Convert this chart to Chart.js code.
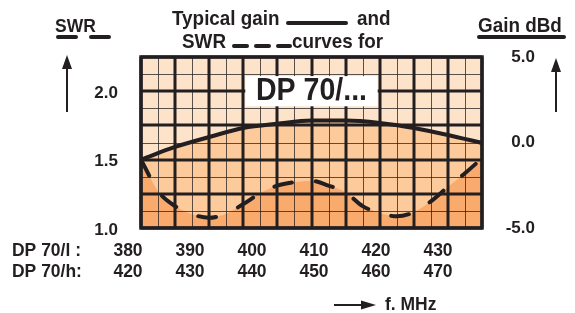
<!DOCTYPE html>
<html>
<head>
<meta charset="utf-8">
<script src="https://cdn.jsdelivr.net/npm/chart.js@4/dist/chart.umd.min.js"></script>
<style>
  html, body { margin: 0; padding: 0; background: #fff; }
</style>
</head>
<body>
<canvas id="chart" width="575" height="313"></canvas>
<script>
// values
const swrFreq = [380, 382.5, 385, 387.5, 390, 392.5, 395, 397.5, 400, 402.5, 405,
  407.5, 410, 412.5, 415, 417.5, 420, 422.5, 425, 427.5, 430];
const swrValues = [1.50, 1.27, 1.16, 1.10, 1.075, 1.105, 1.175, 1.255, 1.31, 1.335, 1.345,
  1.31, 1.26, 1.16, 1.11, 1.085, 1.115, 1.195, 1.30, 1.40, 1.51];
const gainFreq = [380, 385, 390, 395, 400, 405, 410, 415, 420, 425, 430];
const gainValues = [-1.0, -0.26, 0.32, 0.85, 1.1, 1.28, 1.28, 1.14, 0.85, 0.44, -0.03];

const swrTicks = [1.0, 1.5, 2.0];
const gainTicks = [-5, 0, 5];
const bandNames = ['DP 70/l :', 'DP 70/h:'];
const lowBandLabels = ['380', '390', '400', '410', '420', '430'];
const highBandLabels = ['420', '430', '440', '450', '460', '470'];

const ink = '#231f20';
const family = "'Liberation Sans', Arial, sans-serif";
Chart.defaults.font.family = family;

// the print uses a slightly condensed bold sans, so squeeze it a little
function write(ctx, str, x, y, size, align) {
  ctx.save();
  ctx.translate(x, y);
  ctx.scale(0.92, 1);
  ctx.font = `bold ${size}px ${family}`;
  ctx.textAlign = align || 'left';
  ctx.textBaseline = 'alphabetic';
  ctx.fillStyle = ink;
  ctx.fillText(str, 0, 0);
  ctx.restore();
}

function stroke(ctx, x1, y1, x2, y2, w, cap) {
  ctx.lineWidth = w;
  ctx.lineCap = cap || 'butt';
  ctx.beginPath();
  ctx.moveTo(x1, y1);
  ctx.lineTo(x2, y2);
  ctx.stroke();
}

function upArrow(ctx, x, tip, tail) {
  stroke(ctx, x, tail, x, tip + 10, 2);
  ctx.beginPath();
  ctx.moveTo(x, tip);
  ctx.lineTo(x - 5, tip + 14);
  ctx.lineTo(x + 5, tip + 14);
  ctx.closePath();
  ctx.fill();
}

const sheet = {
  id: 'sheet',
  beforeDraw(chart) {
    const { ctx, chartArea: a } = chart;
    ctx.save();
    ctx.fillStyle = '#fff';
    ctx.fillRect(0, 0, chart.width, chart.height);
    ctx.fillStyle = '#fde3ca';
    ctx.fillRect(a.left, a.top, a.width, a.height);
    ctx.restore();
  },
  // grid goes over the fills but under the curves
  beforeDatasetsDraw(chart) {
    const { ctx, chartArea: a, scales } = chart;
    const x = scales.x, y = scales.swr;
    ctx.save();
    const vx = x.ticks.map(t => ({ p: Math.round(x.getPixelForValue(t.value)), major: Math.round((t.value - 380) / 2.5) % 2 === 0 }));
    const hy = y.ticks.map(t => ({ p: Math.round(y.getPixelForValue(t.value)), major: Math.round((t.value - 1) / 0.125) % 2 === 0 }));
    ctx.strokeStyle = 'rgba(35,31,32,0.75)';
    vx.filter(v => !v.major).forEach(v => stroke(ctx, v.p + 0.5, a.top, v.p + 0.5, a.bottom, 1));
    hy.filter(h => !h.major).forEach(h => stroke(ctx, a.left, h.p + 0.5, a.right, h.p + 0.5, 1));
    ctx.strokeStyle = ink;
    vx.filter(v => v.major).forEach(v => stroke(ctx, v.p, a.top, v.p, a.bottom, 3));
    hy.filter(h => h.major).forEach(h => stroke(ctx, a.left, h.p, a.right, h.p, 3));
    ctx.lineWidth = 3.5;
    ctx.strokeRect(a.left, a.top, a.width, a.height);

    // name plate inside the grid
    const bx1 = x.getPixelForValue(395) + 2, bx2 = x.getPixelForValue(415) - 2;
    const by1 = y.getPixelForValue(2.125) + 2, by2 = y.getPixelForValue(1.875) - 2;
    ctx.fillStyle = '#fff';
    ctx.fillRect(bx1, by1, bx2 - bx1, by2 - by1);
    write(ctx, 'DP 70/...', (bx1 + bx2) / 2, by2 - 6, 31, 'center');
    ctx.restore();
  },
  afterDraw(chart) {
    const { ctx } = chart;
    ctx.save();
    ctx.strokeStyle = ink;
    ctx.fillStyle = ink;

    write(ctx, 'Typical gain', 172, 25, 20.5);
    stroke(ctx, 288, 23, 346, 23, 4, 'round');
    write(ctx, 'and', 357, 25, 20.5);
    write(ctx, 'SWR', 182, 48, 20.5);
    [[234, 247], [256, 269], [278, 290]].forEach(d => stroke(ctx, d[0], 46, d[1], 46, 4, 'round'));
    write(ctx, 'curves for', 292, 48, 20.5);

    write(ctx, 'SWR', 55, 32, 19);
    stroke(ctx, 58, 37, 76, 37, 4, 'round');
    stroke(ctx, 91, 37, 109, 37, 4, 'round');
    ctx.fillStyle = ink;
    upArrow(ctx, 67, 55, 112);

    write(ctx, 'Gain dBd', 478, 32, 20.5);
    stroke(ctx, 479, 37, 564, 37, 4, 'round');
    ctx.fillStyle = ink;
    upArrow(ctx, 556, 58, 112);

    write(ctx, bandNames[0], 12, 256, 19);
    write(ctx, bandNames[1], 12, 277, 19);
    lowBandLabels.forEach((t, i) => write(ctx, t, 128 + i * 62, 256, 19, 'center'));
    highBandLabels.forEach((t, i) => write(ctx, t, 128 + i * 62, 277, 19, 'center'));

    stroke(ctx, 334, 305, 364, 305, 2);
    ctx.fillStyle = ink;
    ctx.beginPath();
    ctx.moveTo(376, 305);
    ctx.lineTo(361, 300.5);
    ctx.lineTo(361, 309.5);
    ctx.closePath();
    ctx.fill();
    write(ctx, 'f. MHz', 385, 310, 19);
    ctx.restore();
  }
};

new Chart(document.getElementById('chart'), {
  type: 'line',
  data: {
    datasets: [{
      label: 'SWR',
      yAxisID: 'swr',
      data: swrFreq.map((f, i) => ({ x: f, y: swrValues[i] })),
      borderColor: ink,
      borderWidth: 4,
      borderDash: [18, 24],
      borderCapStyle: 'round',
      backgroundColor: '#f9ab6e',
      fill: 'start',
      pointRadius: 0,
      cubicInterpolationMode: 'monotone'
    }, {
      label: 'Gain',
      yAxisID: 'gain',
      data: gainFreq.map((f, i) => ({ x: f, y: gainValues[i] })),
      borderColor: ink,
      borderWidth: 4,
      backgroundColor: '#fdca9c',
      fill: 'start',
      pointRadius: 0,
      cubicInterpolationMode: 'monotone'
    }]
  },
  options: {
    responsive: false,
    animation: false,
    layout: { padding: { left: 0, right: 40, top: 57, bottom: 0 } },
    plugins: {
      legend: { display: false },
      tooltip: { enabled: false },
      filler: { drawTime: 'beforeDatasetsDraw' }
    },
    scales: {
      x: {
        type: 'linear',
        min: 380,
        max: 430,
        grid: { display: false, drawTicks: false },
        border: { display: false },
        ticks: { display: false, stepSize: 2.5, autoSkip: false },
        afterFit(s) { s.height = 85; }
      },
      swr: {
        position: 'left',
        min: 1,
        max: 2.25,
        grid: { display: false, drawTicks: false },
        border: { display: false },
        ticks: {
          stepSize: 0.125,
          autoSkip: false,
          padding: 23,
          labelOffset: 2,
          color: ink,
          font: { size: 17, weight: 'bold' },
          callback: v => swrTicks.includes(v) ? v.toFixed(1) : ''
        },
        afterFit(s) { s.width = 141; }
      },
      gain: {
        position: 'right',
        min: -5,
        max: 5,
        grid: { display: false, drawTicks: false },
        border: { display: false },
        ticks: {
          stepSize: 1,
          autoSkip: false,
          crossAlign: 'far',
          color: ink,
          font: { size: 17, weight: 'bold' },
          callback: v => gainTicks.includes(v) ? v.toFixed(1) : ''
        },
        afterFit(s) { s.width = 53; }
      }
    }
  },
  plugins: [sheet]
});
</script>
</body>
</html>
